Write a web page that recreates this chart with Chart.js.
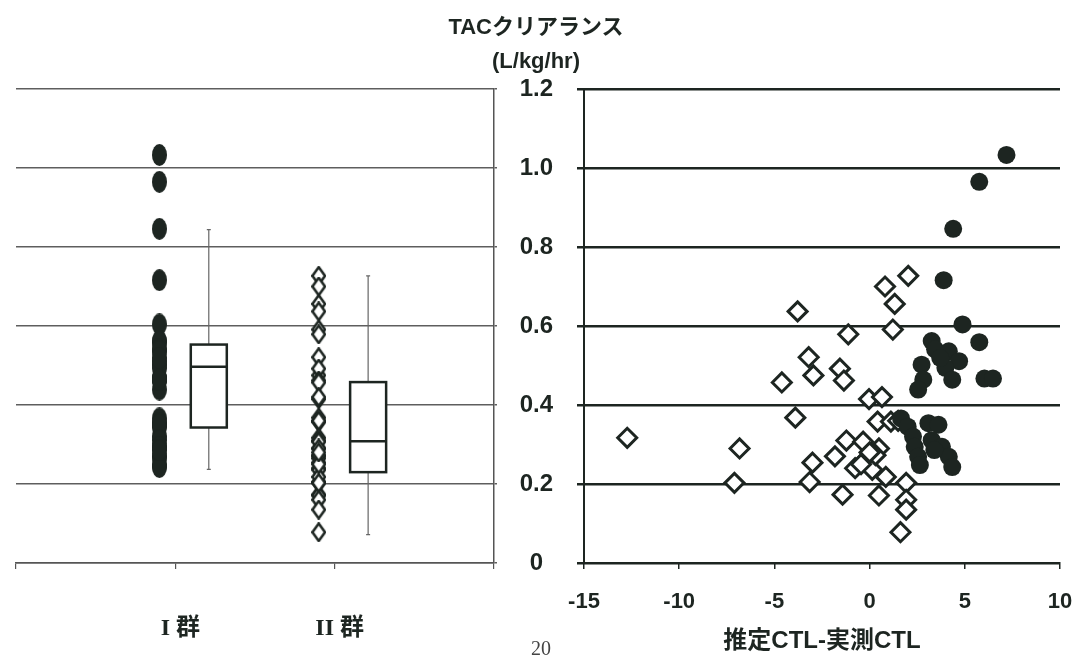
<!DOCTYPE html>
<html lang="ja">
<head>
<meta charset="UTF-8">
<title>TACクリアランス</title>
<script src="https://cdn.jsdelivr.net/npm/chart.js"></script>
<style>
  body { margin: 0; background: #fff; }
  .page { position: relative; width: 1074px; height: 657px; overflow: hidden; }
  .page canvas { position: absolute; left: 0; top: 0; }
  .y-title {
    position: absolute; left: 416px; width: 240px; top: 10px;
    text-align: center; color: #1d2521;
    font: bold 22px 'Liberation Sans', Arial, 'Noto Sans CJK JP', sans-serif;
    line-height: 34px;
  }
  .page-no {
    position: absolute; left: 511px; width: 60px; top: 637px;
    text-align: center; color: #444;
    font: 20px 'Liberation Serif', serif;
  }
</style>
</head>
<body>
<div class="page">
  <canvas id="groupChart" width="1074" height="657"></canvas>
  <canvas id="diffChart" width="1074" height="657"></canvas>
  <div class="y-title">TACクリアランス<br>(L/kg/hr)</div>
  <div class="page-no">20</div>
</div>

<script>
// Y軸（共通）
const yTickValues = [0, 0.2, 0.4, 0.6, 0.8, 1.0, 1.2];
const yTickLabels = ['0', '0.2', '0.4', '0.6', '0.8', '1.0', '1.2'];

// 右側 X軸
const xTickValues = [-15, -10, -5, 0, 5, 10];
const xTickLabels = ['-15', '-10', '-5', '0', '5', '10'];

// 左側 群カテゴリ
const groupTickValues = [0, 1, 2, 3];
const groupTickLabels = ['', 'I 群', 'II 群', ''];
const groupPos = [1, 2];

// I群: 推定CTL-実測CTL と TACクリアランス
const groupIX = [7.19, 5.76, 4.39, 3.89, 4.88, 5.76, 6.03, 6.48, 3.26, 3.44,
                 2.73, 2.82, 2.55, 4.16, 4.70, 3.98, 4.34, 3.71, 1.65, 2.00,
                 2.28, 2.37, 2.55, 2.64, 3.09, 3.62, 3.26, 3.80, 4.16, 4.34, 3.40];
const groupIY = [1.033, 0.965, 0.846, 0.716, 0.604, 0.559, 0.467, 0.467, 0.562, 0.541,
                 0.502, 0.464, 0.439, 0.536, 0.511, 0.494, 0.464, 0.519, 0.366, 0.345,
                 0.320, 0.294, 0.269, 0.248, 0.354, 0.350, 0.311, 0.294, 0.269, 0.243, 0.286];

// II群
const groupIIX = [2.03, 0.81, 1.32, -3.78, 1.22, -1.12, -3.20, -2.95, -1.56, -1.35,
                  -4.61, -0.03, 0.65, -3.90, 0.42, 1.12, 1.50, -12.73, -6.83, -7.10,
                  -1.22, -0.34, 0.49, -1.82, -3.00, -3.15, -0.76, -0.13, 0.14, 0.31,
                  0.85, -1.42, 0.49, 1.92, 1.92, 1.92, 1.62, -0.45, 0.00];
const groupIIY = [0.727, 0.700, 0.656, 0.637, 0.591, 0.579, 0.521, 0.475, 0.492, 0.462,
                  0.457, 0.415, 0.420, 0.368, 0.358, 0.358, 0.360, 0.317, 0.290, 0.203,
                  0.310, 0.307, 0.290, 0.270, 0.254, 0.205, 0.240, 0.265, 0.236, 0.273,
                  0.218, 0.173, 0.171, 0.203, 0.160, 0.135, 0.078, 0.250, 0.280];

// 箱ひげ図 (I群, II群)
const boxLow = [0.237, 0.072];
const boxQ1 = [0.343, 0.230];
const boxMedian = [0.497, 0.308];
const boxQ3 = [0.553, 0.458];
const boxHigh = [0.844, 0.727];

const ink = '#1d2521';
const latin = "'Liberation Sans', Arial, 'Noto Sans CJK JP', sans-serif";

const stripOffset = -0.1;
const boxOffset = 0.21;
const boxWidth = 0.226;

function makeEllipse(w, h) {
    const c = document.createElement('canvas');
    c.width = w; c.height = h;
    const g = c.getContext('2d');
    g.fillStyle = ink;
    g.beginPath();
    g.ellipse(w / 2, h / 2, w / 2, h / 2, 0, 0, Math.PI * 2);
    g.fill();
    return c;
}

function makeDiamond(w, h, lw) {
    const c = document.createElement('canvas');
    c.width = w; c.height = h;
    const g = c.getContext('2d');
    g.beginPath();
    g.moveTo(w / 2, lw / 2);
    g.lineTo(w - lw / 2, h / 2);
    g.lineTo(w / 2, h - lw / 2);
    g.lineTo(lw / 2, h / 2);
    g.closePath();
    g.fillStyle = '#fff';
    g.fill();
    g.lineWidth = lw;
    g.strokeStyle = ink;
    g.stroke();
    return c;
}

// 軸ラベル分の余白を無効化（描画領域を固定）
function fixHeight(h) {
    return s => { s.height = h; s.paddingLeft = 0; s.paddingRight = 0; };
}
function fixWidth(w) {
    return s => { s.width = w; s.paddingTop = 0; s.paddingBottom = 0; };
}

const boxPlot = {
    id: 'boxPlot',
    afterDatasetsDraw(chart) {
        const {ctx, scales: {x, y}} = chart;
        ctx.save();
        groupPos.forEach((pos, i) => {
            const left = x.getPixelForValue(pos + boxOffset - boxWidth / 2);
            const right = x.getPixelForValue(pos + boxOffset + boxWidth / 2);
            const cx = (left + right) / 2;
            const top = y.getPixelForValue(boxQ3[i]);
            const bottom = y.getPixelForValue(boxQ1[i]);
            const hi = y.getPixelForValue(boxHigh[i]);
            const lo = y.getPixelForValue(boxLow[i]);
            const med = y.getPixelForValue(boxMedian[i]);

            // ひげ
            ctx.strokeStyle = '#666';
            ctx.lineWidth = 1.2;
            ctx.beginPath();
            ctx.moveTo(cx, hi); ctx.lineTo(cx, top);
            ctx.moveTo(cx, bottom); ctx.lineTo(cx, lo);
            ctx.moveTo(cx - 2, hi); ctx.lineTo(cx + 2, hi);
            ctx.moveTo(cx - 2, lo); ctx.lineTo(cx + 2, lo);
            ctx.stroke();

            // 箱
            ctx.fillStyle = '#fff';
            ctx.fillRect(left, top, right - left, bottom - top);
            ctx.strokeStyle = ink;
            ctx.lineWidth = 2.5;
            ctx.strokeRect(left, top, right - left, bottom - top);
            ctx.beginPath();
            ctx.moveTo(left, med); ctx.lineTo(right, med);
            ctx.stroke();
        });
        ctx.restore();
    }
};

// 左: 群別分布
new Chart(document.getElementById('groupChart'), {
    type: 'scatter',
    data: {
        datasets: [
            {
                label: 'I群',
                data: groupIY.map(v => ({x: groupPos[0] + stripOffset, y: v})),
                pointStyle: makeEllipse(15, 22),
                pointRadius: 8
            },
            {
                label: 'II群',
                data: groupIIY.map(v => ({x: groupPos[1] + stripOffset, y: v})),
                pointStyle: makeDiamond(15, 20, 2.5),
                pointRadius: 8
            }
        ]
    },
    options: {
        responsive: false,
        animation: false,
        events: [],
        layout: {padding: {left: 16, right: 577, top: 89, bottom: 0}},
        plugins: {legend: {display: false}, tooltip: {enabled: false}},
        scales: {
            x: {
                type: 'linear', min: 0, max: 3,
                afterBuildTicks: s => { s.ticks = groupTickValues.map(v => ({value: v})); },
                afterFit: fixHeight(94),
                grid: {drawOnChartArea: false, drawTicks: true, tickLength: 6, color: '#555', lineWidth: 1.2},
                border: {color: '#555', width: 1.5},
                ticks: {
                    padding: 45, labelOffset: 5, color: ink,
                    font: {family: "'Liberation Serif', 'Noto Sans CJK JP', serif", size: 24, weight: 'bold'},
                    callback: (v, i) => groupTickLabels[i]
                }
            },
            y: {
                position: 'right', min: 0, max: 1.2,
                afterBuildTicks: s => { s.ticks = yTickValues.map(v => ({value: v})); },
                afterFit: fixWidth(3),
                grid: {color: '#5e5e5e', lineWidth: 1.5, tickLength: 3},
                border: {color: '#555', width: 1.5},
                ticks: {display: false}
            }
        }
    },
    plugins: [boxPlot]
});

// 右: 推定CTL-実測CTL vs TACクリアランス
new Chart(document.getElementById('diffChart'), {
    type: 'scatter',
    data: {
        datasets: [
            {
                label: 'I群',
                data: groupIX.map((v, i) => ({x: v, y: groupIY[i]})),
                pointStyle: 'circle',
                pointRadius: 9,
                backgroundColor: ink,
                borderColor: ink,
                borderWidth: 0
            },
            {
                label: 'II群',
                data: groupIIX.map((v, i) => ({x: v, y: groupIIY[i]})),
                pointStyle: 'rectRot',
                pointRadius: 9.5,
                backgroundColor: '#fff',
                borderColor: ink,
                borderWidth: 3
            }
        ]
    },
    options: {
        responsive: false,
        animation: false,
        events: [],
        layout: {padding: {left: 504, right: 14, top: 89, bottom: 1}},
        plugins: {legend: {display: false}, tooltip: {enabled: false}},
        scales: {
            x: {
                type: 'linear', min: -15, max: 10,
                afterBuildTicks: s => { s.ticks = xTickValues.map(v => ({value: v})); },
                afterFit: fixHeight(93),
                grid: {drawOnChartArea: false, drawTicks: true, tickLength: 6, color: ink, lineWidth: 1.5},
                border: {color: ink, width: 2},
                ticks: {
                    padding: 20, color: ink,
                    font: {family: latin, size: 22, weight: 'bold'},
                    callback: (v, i) => xTickLabels[i]
                },
                title: {
                    display: true, text: '推定CTL-実測CTL', padding: 0, color: ink,
                    font: {family: latin, size: 24, weight: 'bold'}
                }
            },
            y: {
                min: 0, max: 1.2,
                afterBuildTicks: s => { s.ticks = yTickValues.map(v => ({value: v})); },
                afterFit: fixWidth(80),
                grid: {color: ink, lineWidth: 2.5, tickLength: 7},
                border: {color: ink, width: 2},
                ticks: {
                    crossAlign: 'center', padding: 24, color: ink,
                    font: {family: latin, size: 24, weight: 'bold'},
                    callback: (v, i) => yTickLabels[i]
                }
            }
        }
    }
});
</script>
</body>
</html>
